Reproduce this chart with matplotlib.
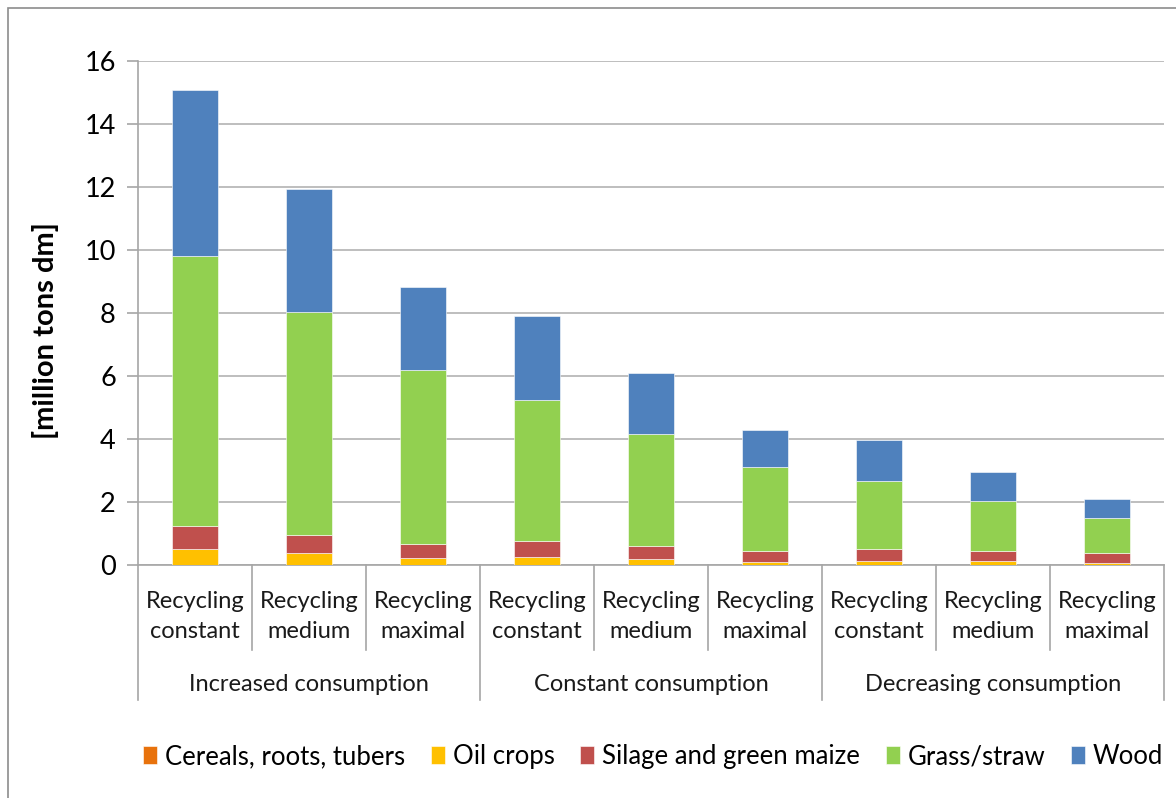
import matplotlib
matplotlib.use("Agg")
import matplotlib.pyplot as plt
import matplotlib.transforms as mtransforms
from matplotlib.patches import Rectangle
import numpy as np

plt.rcParams['font.family'] = ['Lato', 'DejaVu Sans']

scenarios = ['Recycling\nconstant', 'Recycling\nmedium', 'Recycling\nmaximal'] * 3
groups = ['Increased consumption', 'Constant consumption', 'Decreasing consumption']

# million tons dry matter, per crop type
cereals = [0, 0, 0, 0, 0, 0, 0, 0, 0]
oil = [0.51, 0.39, 0.23, 0.26, 0.18, 0.10, 0.12, 0.12, 0.06]
silage = [0.74, 0.57, 0.45, 0.49, 0.42, 0.33, 0.39, 0.31, 0.33]
grass = [8.57, 7.07, 5.51, 4.48, 3.57, 2.68, 2.16, 1.59, 1.09]
wood = [5.25, 3.91, 2.63, 2.68, 1.92, 1.19, 1.31, 0.93, 0.62]

series = [
    ('Cereals, roots, tubers', cereals, '#E8720C'),
    ('Oil crops', oil, '#FFC000'),
    ('Silage and green maize', silage, '#C0504D'),
    ('Grass/straw', grass, '#92D050'),
    ('Wood', wood, '#4F81BD'),
]

fig = plt.figure(figsize=(11.76, 7.98), dpi=100)
ax = fig.add_axes([138 / 1176, 1 - 565 / 798, 1026 / 1176, 504 / 798])

# outer chart frame
fig.patches.append(Rectangle((8 / 1176, -0.01), 1.0, 1 - 8 / 798 + 0.01,
                             transform=fig.transFigure, fill=False,
                             edgecolor='#8c8c8c', lw=1.2))

x = np.arange(len(scenarios))
bottom = np.zeros(len(scenarios))
for name, vals, col in series:
    vals = np.array(vals)
    ax.bar(x, vals, 0.4, bottom=bottom, color=col, label=name,
           edgecolor='white', linewidth=0.4, zorder=3)
    bottom += vals

ax.set_xlim(-0.5, len(scenarios) - 0.5)
ax.set_ylim(0, 16)
ax.set_yticks(range(0, 17, 2))
ax.yaxis.grid(True, color='#b3b3b3', lw=1.2, zorder=0)
ax.tick_params(axis='y', labelsize=19.5, length=8, color='#a6a6a6', width=1.2, pad=8)
ax.set_xticks([])
for s in ['top', 'right']:
    ax.spines[s].set_visible(False)
for s in ['left', 'bottom']:
    ax.spines[s].set_color('#a6a6a6')
    ax.spines[s].set_linewidth(1.2)

ax.set_ylabel('[million tons dm]', fontsize=21, fontweight='bold')
ax.yaxis.set_label_coords(-0.077, 0.465)

# category axis: scenario row and group row
trans = mtransforms.blended_transform_factory(ax.transData, ax.transAxes)
for i, lab in enumerate(scenarios):
    ax.text(i, -0.102, lab, transform=trans, ha='center', va='center',
            fontsize=17, color='#1a1a1a', linespacing=1.5)
for k in range(len(scenarios) + 1):
    pos = k - 0.5
    depth = -0.268 if k % 3 == 0 else -0.169
    ax.plot([pos, pos], [0, depth], transform=trans, color='#a6a6a6',
            lw=1.2, clip_on=False)
for g, name in enumerate(groups):
    ax.text(3 * g + 1, -0.238, name, transform=trans, ha='center',
            va='center', fontsize=17, color='#1a1a1a')

ax.legend(loc='center', bbox_to_anchor=(0.502, -0.38), ncol=5, frameon=False,
          fontsize=18.5, handlelength=0.55, handleheight=0.7,
          handletextpad=0.3, columnspacing=1.0)

fig.savefig('out.png', dpi=100)
